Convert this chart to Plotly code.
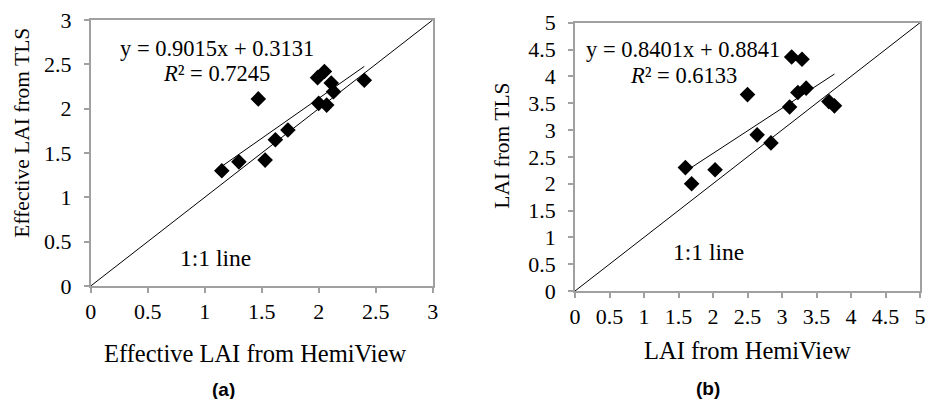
import plotly.graph_objects as go

# Panel (a): Effective LAI
a_hemi = [1.15, 1.30, 1.53, 1.62, 1.73, 1.47, 2.00, 2.07, 2.13, 2.11, 2.05, 1.99, 2.40]
a_tls = [1.30, 1.40, 1.42, 1.65, 1.76, 2.11, 2.06, 2.04, 2.19, 2.29, 2.42, 2.35, 2.32]
a_slope, a_icpt = 0.9015, 0.3131
a_eq = "y = 0.9015x + 0.3131"
a_r2 = "<i>R</i>² = 0.7245"

# Panel (b): LAI
b_hemi = [1.60, 1.69, 2.03, 2.50, 2.64, 2.84, 3.11, 3.14, 3.29, 3.23, 3.35, 3.68, 3.76]
b_tls = [2.30, 2.00, 2.26, 3.66, 2.91, 2.76, 3.43, 4.36, 4.32, 3.70, 3.78, 3.53, 3.45]
b_slope, b_icpt = 0.8401, 0.8841
b_eq = "y = 0.8401x + 0.8841"
b_r2 = "<i>R</i>² = 0.6133"

a_ticks = [0, 0.5, 1, 1.5, 2, 2.5, 3]
b_ticks = [0, 0.5, 1, 1.5, 2, 2.5, 3, 3.5, 4, 4.5, 5]

W, H = 927, 399
FONT = "Liberation Serif"
GRAY = "#a0a0a0"

fig = go.Figure()

def add_panel(xs, ys, slope, icpt, maxv, xa, ya):
    fig.add_trace(go.Scatter(x=[0, maxv], y=[0, maxv], mode="lines",
                             line=dict(color="black", width=1), xaxis=xa, yaxis=ya,
                             showlegend=False, hoverinfo="skip"))
    x0, x1 = min(xs), max(xs)
    fig.add_trace(go.Scatter(x=[x0, x1], y=[slope * x0 + icpt, slope * x1 + icpt], mode="lines",
                             line=dict(color="black", width=1), xaxis=xa, yaxis=ya,
                             showlegend=False, hoverinfo="skip"))
    fig.add_trace(go.Scatter(x=xs, y=ys, mode="markers",
                             marker=dict(symbol="diamond", size=12, color="black"),
                             xaxis=xa, yaxis=ya, showlegend=False))

add_panel(a_hemi, a_tls, a_slope, a_icpt, 3, "x", "y")
add_panel(b_hemi, b_tls, b_slope, b_icpt, 5, "x2", "y2")

def px(x):
    return x / W

def py(y):
    return 1 - y / H

axis_common = dict(showline=True, linecolor=GRAY, linewidth=1.5, mirror=True,
                   ticks="outside", ticklen=5, tickcolor=GRAY, tickwidth=1.5,
                   showgrid=False, zeroline=False, ticklabeloverflow="allow",
                   automargin=False,
                   tickfont=dict(family=FONT, size=22, color="black"))

fig.update_layout(
    width=W, height=H, margin=dict(l=0, r=0, t=0, b=0, pad=0, autoexpand=False),
    paper_bgcolor="white", plot_bgcolor="white",
    font=dict(family=FONT, color="black"),
    xaxis=dict(domain=[px(90.7), px(432.7)], range=[0, 3], tickvals=a_ticks,
               ticktext=[f"{t:g}" for t in a_ticks], anchor="y", **axis_common),
    yaxis=dict(domain=[py(286), py(20)], range=[0, 3], tickvals=a_ticks,
               ticktext=[f"{t:g}" for t in a_ticks], anchor="x", ticklabelstandoff=8, **axis_common),
    xaxis2=dict(domain=[px(575), px(920)], range=[0, 5], tickvals=b_ticks,
                ticktext=[f"{t:g}" for t in b_ticks], anchor="y2", **axis_common),
    yaxis2=dict(domain=[py(291), py(22.7)], range=[0, 5], tickvals=b_ticks,
                ticktext=[f"{t:g}" for t in b_ticks], anchor="x2", ticklabelstandoff=8, **axis_common),
)

def ann(text, x, y, size=22, angle=0, family=FONT, bold=False):
    if bold:
        text = f"<b>{text}</b>"
    fig.add_annotation(text=text, x=px(x), y=py(y), xref="paper", yref="paper",
                       xanchor="center", yanchor="middle", showarrow=False, textangle=angle,
                       font=dict(family=family, size=size, color="black"))

# Panel a texts
ann(a_eq, 216.5, 48.3, size=22.5)
ann(a_r2, 216.7, 73.3, size=22.5)
ann("1:1 line", 215, 258.3, size=23.5)
ann("Effective LAI from TLS", 21.7, 133, size=21.5, angle=-90)
ann("Effective LAI from HemiView", 255, 353, size=24.5)
ann("(a)", 223.3, 389, size=19, family="Liberation Sans", bold=True)

# Panel b texts
ann(b_eq, 683, 49.3, size=22.5)
ann(b_r2, 683, 75, size=22.5)
ann("1:1 line", 708, 251.7, size=23.5)
ann("LAI from TLS", 501.7, 146, size=21.5, angle=-90)
ann("LAI from HemiView", 747, 350, size=24.5)
ann("(b)", 708.3, 388, size=19, family="Liberation Sans", bold=True)

fig.write_html("out.html", config={"displayModeBar": False},
               post_script="document.body.style.margin='0';document.body.style.overflow='hidden';")
